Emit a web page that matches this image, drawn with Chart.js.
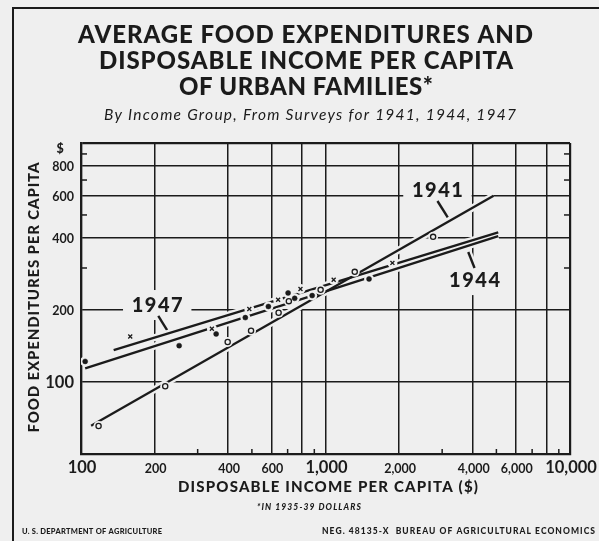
<!DOCTYPE html>
<html><head><meta charset="utf-8">
<script src="https://cdn.jsdelivr.net/npm/chart.js@4"></script>
<style>html,body{margin:0;padding:0;background:#efefef;overflow:hidden}canvas{display:block}</style>
</head><body>
<canvas id="c" width="599" height="541"></canvas>
<script>
// ---------- texts ----------
const titleLines = ['AVERAGE FOOD EXPENDITURES AND', 'DISPOSABLE INCOME PER CAPITA', 'OF URBAN FAMILIES*'];
const subtitleText = 'By Income Group, From Surveys for 1941, 1944, 1947';
const yAxisTitle = 'FOOD EXPENDITURES PER CAPITA';
const xAxisTitle = 'DISPOSABLE INCOME PER CAPITA ($)';
const footnoteText = '*IN 1935-39 DOLLARS';
const footerLeft = 'U. S. DEPARTMENT OF AGRICULTURE';
const footerRight = 'NEG. 48135-X  BUREAU OF AGRICULTURAL ECONOMICS';

// ---------- ticks ----------
const xMajorTicks = [100, 200, 400, 600, 800, 1000, 2000, 4000, 6000, 8000, 10000];
const xMinorTicks = [300, 500, 700, 900, 3000, 5000, 7000, 9000];
const xLabelValues = [100, 200, 400, 600, 1000, 2000, 4000, 6000, 10000];
const xLabelTexts = ['100', '200', '400', '600', '1,000', '2,000', '4,000', '6,000', '10,000'];
const xBigLabels = [100, 1000, 10000];
const yMajorTicks = [100, 200, 400, 600, 800, 1000];
const yMinorTicks = [300, 500, 700, 900];
const yLabelValues = [100, 200, 400, 600, 800, 1000];
const yLabelTexts = ['100', '200', '400', '600', '800', '$'];
const yBigLabels = [100];

// ---------- data (income $, food $) ----------
const income1941 = [118, 221, 398, 496, 643, 708, 955, 1317, 2755];
const food1941   = [65.5, 96, 147, 164, 195, 218, 243, 289, 405];
const income1944 = [104, 252, 357, 470, 584, 703, 748, 882, 1507];
const food1944   = [122, 142, 159, 186, 207, 236, 224, 230, 270];
const income1947 = [159, 343, 488, 640, 790, 1080, 1878];
const food1947   = [155, 167, 202, 221, 245, 268, 315];
// fitted lines (end points)
const fitIncome1941 = [110, 4870];  const fitFood1941 = [65.6, 601];
const fitIncome1944 = [104, 5087];  const fitFood1944 = [114, 408];
const fitIncome1947 = [136, 5087];  const fitFood1947 = [136, 423];

// ---------- series labels with pointers (data coords) ----------
const seriesLabels = ['1941', '1944', '1947'];
const labelIncome = [2870, 4070, 205];
const labelFood = [636, 267, 210];
const pointerAIncome = [2870, 4070, 207];
const pointerAFood = [572, 300, 189];
const pointerBIncome = [3162, 3835, 225];
const pointerBFood = [489, 350, 165];

const paper = '#efefef';
const ink = '#1b1b1b';
const FONT = 'Lato, "Noto Sans", sans-serif';

function pts(xs, ys) { return xs.map((x, i) => ({ x: x, y: ys[i] })); }

const lineSets = [pts(fitIncome1941, fitFood1941), pts(fitIncome1944, fitFood1944), pts(fitIncome1947, fitFood1947)];
const markerSets = [pts(income1941, food1941), pts(income1944, food1944), pts(income1947, food1947)];
const datasets = [];
lineSets.forEach(d => datasets.push({ data: d, showLine: true, borderColor: paper, borderWidth: 7, pointRadius: 0, order: 40 }));
lineSets.forEach(d => datasets.push({ data: d, showLine: true, borderColor: ink, borderWidth: 2.3, pointRadius: 0, order: 30 }));
markerSets.forEach(d => datasets.push({ data: d, showLine: false, pointRadius: 5, pointStyle: 'circle', pointBackgroundColor: paper, pointBorderWidth: 0, order: 20 }));
datasets.push({ data: markerSets[0], showLine: false, pointStyle: 'circle', pointRadius: 2.6, pointBackgroundColor: paper, pointBorderColor: ink, pointBorderWidth: 1.3, order: 10 });
datasets.push({ data: markerSets[1], showLine: false, pointStyle: 'circle', pointRadius: 2.5, pointBackgroundColor: ink, pointBorderColor: ink, pointBorderWidth: 0.5, order: 10 });
datasets.push({ data: markerSets[2], showLine: false, pointStyle: 'crossRot', pointRadius: 2.8, pointBackgroundColor: ink, pointBorderColor: ink, pointBorderWidth: 1.3, order: 10 });

function fitText(ctx, text, cx, baseY, font, targetW) {
  ctx.font = font;
  if ('letterSpacing' in ctx) ctx.letterSpacing = '0px';
  const w = ctx.measureText(text).width;
  ctx.textAlign = 'left';
  ctx.textBaseline = 'alphabetic';
  if ('letterSpacing' in ctx && text.length > 1) {
    const ls = (targetW - w) / (text.length - 1);
    ctx.letterSpacing = ls + 'px';
    ctx.fillText(text, cx - targetW / 2, baseY);
    ctx.letterSpacing = '0px';
  } else {
    ctx.fillText(text, cx - w / 2, baseY);
  }
}

const decor = {
  id: 'decor',
  beforeDatasetsDraw(chart) {
    const ctx = chart.ctx, xs = chart.scales.x, ys = chart.scales.y, ca = chart.chartArea;
    ctx.save();
    // minor ticks
    ctx.strokeStyle = ink; ctx.lineWidth = 1.5;
    yMinorTicks.forEach(v => {
      const py = ys.getPixelForValue(v);
      ctx.beginPath(); ctx.moveTo(ca.left, py); ctx.lineTo(ca.left + 6, py); ctx.stroke();
      ctx.beginPath(); ctx.moveTo(ca.right, py); ctx.lineTo(ca.right - 6, py); ctx.stroke();
    });
    xMinorTicks.forEach(v => {
      const px = xs.getPixelForValue(v);
      ctx.beginPath(); ctx.moveTo(px, ca.bottom); ctx.lineTo(px, ca.bottom - 5); ctx.stroke();
    });
    // series labels
    seriesLabels.forEach((t, i) => {
      const px = xs.getPixelForValue(labelIncome[i]), py = ys.getPixelForValue(labelFood[i]);
      ctx.font = '900 20px ' + FONT;
      ctx.letterSpacing = '1.5px';
      const w = ctx.measureText(t).width;
      ctx.fillStyle = paper;
      ctx.fillRect(px - w / 2 - 8, py - 15, w + 16, 30);
      ctx.fillStyle = ink;
      ctx.textAlign = 'center'; ctx.textBaseline = 'alphabetic';
      ctx.fillText(t, px + 0.75, py + 7);
      ctx.letterSpacing = '0px';
      const ax = xs.getPixelForValue(pointerAIncome[i]), ay = ys.getPixelForValue(pointerAFood[i]);
      const bx = xs.getPixelForValue(pointerBIncome[i]), by = ys.getPixelForValue(pointerBFood[i]);
      ctx.strokeStyle = paper; ctx.lineWidth = 7;
      ctx.beginPath(); ctx.moveTo(ax, ay); ctx.lineTo(bx, by); ctx.stroke();
      ctx.strokeStyle = ink; ctx.lineWidth = 2.4;
      ctx.beginPath(); ctx.moveTo(ax, ay); ctx.lineTo(bx, by); ctx.stroke();
    });
    ctx.restore();
  },
  afterDraw(chart) {
    const ctx = chart.ctx, xs = chart.scales.x, ys = chart.scales.y, ca = chart.chartArea;
    ctx.save();
    ctx.fillStyle = ink;
    // frame
    ctx.strokeStyle = ink; ctx.lineWidth = 2;
    ctx.beginPath(); ctx.moveTo(13, 545); ctx.lineTo(13, 8); ctx.lineTo(605, 8); ctx.stroke();
    // titles
    fitText(ctx, titleLines[0], 305.5, 43, '900 24px ' + FONT, 455);
    fitText(ctx, titleLines[1], 306, 69, '900 24px ' + FONT, 414);
    fitText(ctx, titleLines[2], 306, 95, '900 24px ' + FONT, 254);
    fitText(ctx, subtitleText, 310, 120, 'italic 15.5px ' + FONT, 412);
    // axis titles
    fitText(ctx, xAxisTitle, 328, 492, '900 15px ' + FONT, 300);
    ctx.save();
    ctx.translate(39, (ca.top + ca.bottom) / 2 - 1);
    ctx.rotate(-Math.PI / 2);
    fitText(ctx, yAxisTitle, 0, 0, '900 15px ' + FONT, 270);
    ctx.restore();
    // tick labels
    ctx.textBaseline = 'alphabetic';
    xLabelValues.forEach((v, i) => {
      const big = xBigLabels.includes(v);
      ctx.font = (big ? 'bold 16.5px ' : 'bold 12.5px ') + FONT;
      ctx.textAlign = 'center';
      ctx.fillText(xLabelTexts[i], xs.getPixelForValue(v) + 1, ca.bottom + 19);
    });
    yLabelValues.forEach((v, i) => {
      const big = yBigLabels.includes(v);
      const py = ys.getPixelForValue(v);
      const t = yLabelTexts[i];
      if (t === '$') {
        ctx.font = '900 12.5px ' + FONT; ctx.textAlign = 'center';
        ctx.fillText(t, ca.left - 21, py + 9.5);
      } else {
        ctx.font = (big ? 'bold 16.5px ' : 'bold 12.5px ') + FONT;
        ctx.textAlign = 'right';
        ctx.fillText(t, ca.left - 7, py + (big ? 6 : 4.5));
      }
    });
    // footnote & footer
    fitText(ctx, footnoteText, 309, 510, '900 italic 8.5px ' + FONT, 104);
    fitText(ctx, footerLeft, 22 + 140 / 2, 534, '900 7.5px ' + FONT, 140);
    fitText(ctx, footerRight, 322 + 273 / 2, 534, '900 8.5px ' + FONT, 273);
    ctx.restore();
  }
};

function allTicks(a, b) { return a.concat(b).sort((p, q) => p - q).map(v => ({ value: v })); }

new Chart(document.getElementById('c'), {
  type: 'scatter',
  data: { datasets: datasets },
  options: {
    responsive: false,
    animation: false,
    devicePixelRatio: 1,
    layout: { padding: { top: 143, right: 29, bottom: 0, left: 0 } },
    plugins: { legend: { display: false }, tooltip: { enabled: false }, title: { display: false } },
    scales: {
      x: {
        type: 'logarithmic', min: 100, max: 10000,
        afterBuildTicks: s => { s.ticks = allTicks(xMajorTicks, xMinorTicks); },
        ticks: { display: false },
        grid: {
          drawTicks: false,
          color: c => (c.tick && xMajorTicks.includes(c.tick.value)) ? ink : 'rgba(0,0,0,0)',
          lineWidth: c => (c.tick && (c.tick.value === 100 || c.tick.value === 10000)) ? 2.2 : 1.5
        },
        border: { display: true, color: ink, width: 2.2 },
        afterFit: s => { s.height = 87; }
      },
      y: {
        type: 'logarithmic', min: 50, max: 1000,
        afterBuildTicks: s => { s.ticks = allTicks(yMajorTicks, yMinorTicks); },
        ticks: { display: false },
        grid: {
          drawTicks: false,
          color: c => (c.tick && yMajorTicks.includes(c.tick.value)) ? ink : 'rgba(0,0,0,0)',
          lineWidth: c => (c.tick && c.tick.value === 1000) ? 2.2 : 1.5
        },
        border: { display: true, color: ink, width: 2.2 },
        afterFit: s => { s.width = 81; }
      }
    }
  },
  plugins: [decor]
});
</script>
</body></html>
